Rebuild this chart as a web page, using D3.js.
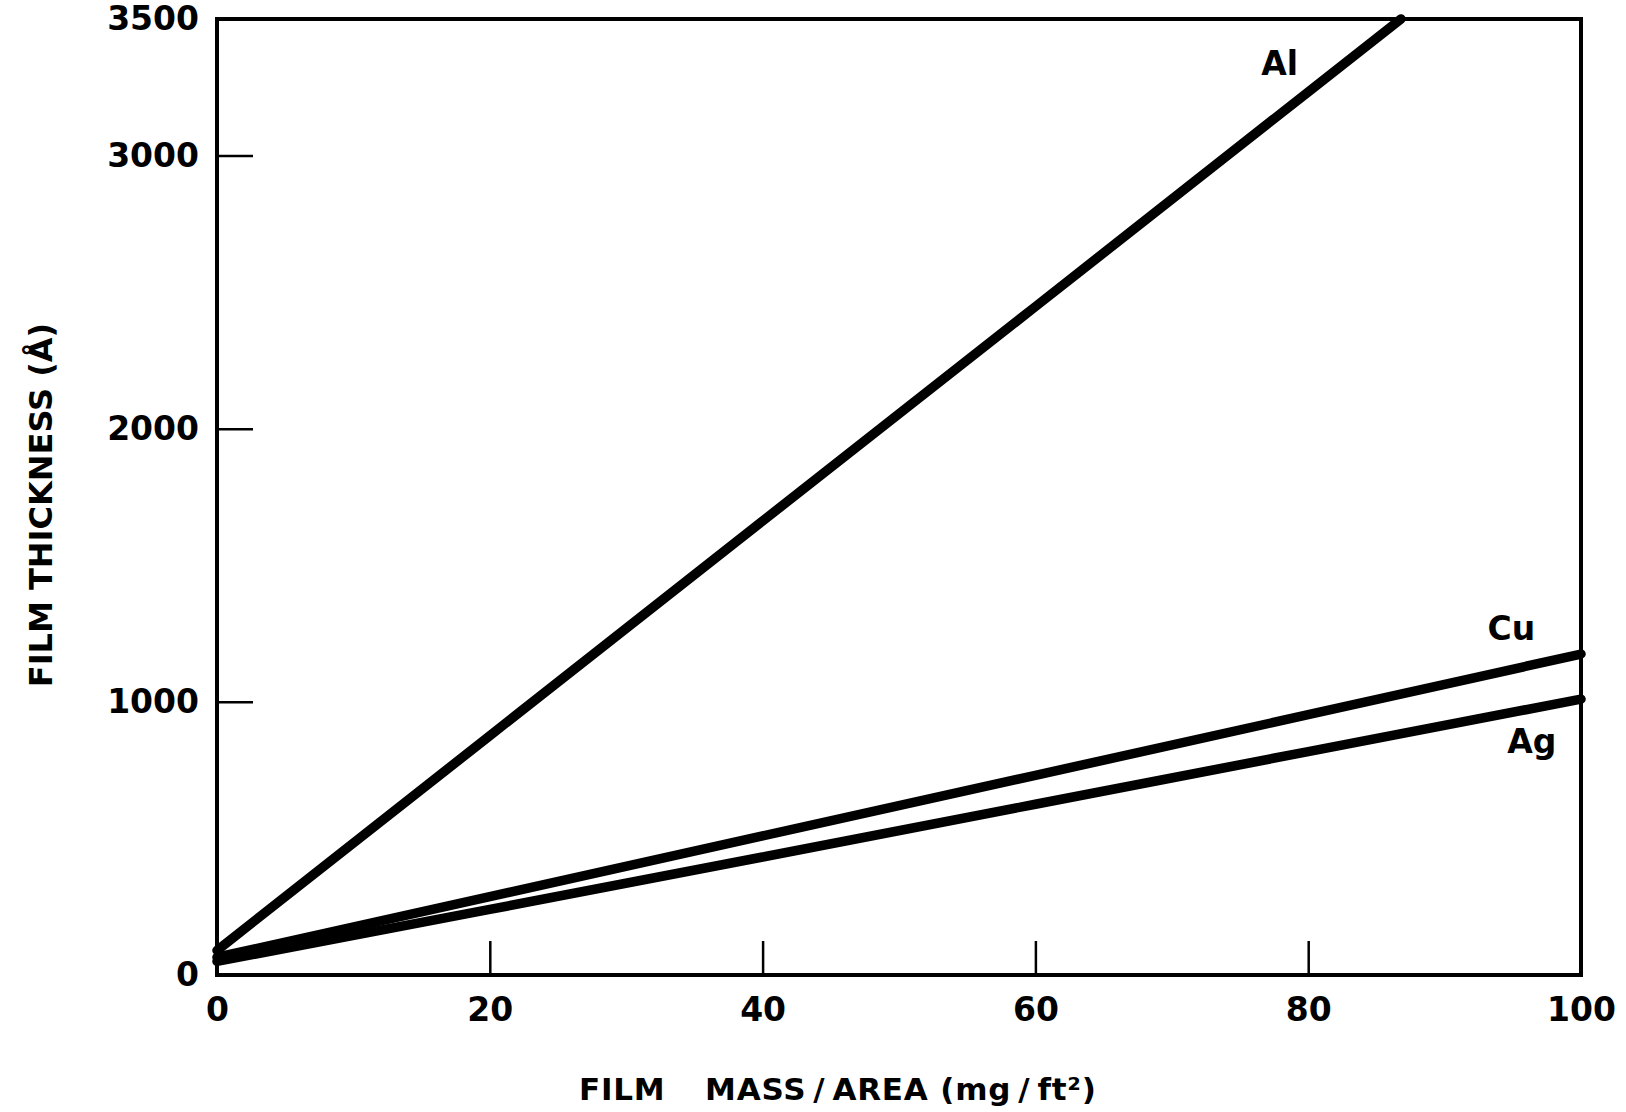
<!DOCTYPE html>
<html>
<head>
<meta charset="utf-8">
<script src="https://cdn.jsdelivr.net/npm/d3@7"></script>
<style>
  body { margin: 0; background: #fff; }
  svg { display: block; }
  text { font-family: "DejaVu Sans", sans-serif; font-weight: bold; fill: #000; }
</style>
</head>
<body>
<script>
// values
var massTicks = [0, 20, 40, 60, 80, 100];
var thicknessTicks = [0, 1000, 2000, 3000, 3500];

var mass = [0, 20, 40, 60, 80, 100];
var cuThickness = [65, 287, 509, 731, 953, 1175];
var agThickness = [50, 240, 432, 625, 818, 1010];

var alMass = [0, 20, 40, 60, 80, 86.8];
var alThickness = [90, 876, 1662, 2447, 3233, 3500];

var W = 1626, H = 1112;
var margin = { top: 19, right: 45, bottom: 137, left: 217 };

var x = d3.scaleLinear().domain([0, 100]).range([margin.left, W - margin.right]);
var y = d3.scaleLinear().domain([0, 3500]).range([H - margin.bottom, margin.top]);

var svg = d3.select('body').append('svg')
  .attr('width', W)
  .attr('height', H);

svg.append('rect').attr('width', W).attr('height', H).attr('fill', '#fff');

//y axis, ticks point inward
var yAxis = d3.axisLeft(y)
  .tickValues(thicknessTicks)
  .tickSizeInner(-36)
  .tickSizeOuter(0)
  .tickPadding(18)
  .tickFormat(d3.format('d'));

var gy = svg.append('g')
  .attr('transform', 'translate(' + margin.left + ',0)')
  .call(yAxis);
gy.select('.domain').remove();
gy.selectAll('line').attr('stroke', '#000').attr('stroke-width', 2.5);
gy.selectAll('text').style('font-size', '33px');

//x axis, ticks point up
var xAxis = d3.axisBottom(x)
  .tickValues(massTicks)
  .tickSizeInner(-34)
  .tickSizeOuter(0)
  .tickPadding(0)
  .tickFormat(d3.format('d'));

var gx = svg.append('g')
  .attr('transform', 'translate(0,' + (H - margin.bottom) + ')')
  .call(xAxis);
gx.select('.domain').remove();
gx.selectAll('line').attr('stroke', '#000').attr('stroke-width', 2.5);
gx.selectAll('text')
  .attr('y', 46)
  .attr('dy', 0)
  .style('font-size', '33px');

//frame
svg.append('rect')
  .attr('x', x(0))
  .attr('y', y(3500))
  .attr('width', x(100) - x(0))
  .attr('height', y(0) - y(3500))
  .attr('fill', 'none')
  .attr('stroke', '#000')
  .attr('stroke-width', 4);

//lines
var line = d3.line()
  .x(function (d) { return x(d[0]); })
  .y(function (d) { return y(d[1]); });

var series = [
  d3.zip(alMass, alThickness),
  d3.zip(mass, cuThickness),
  d3.zip(mass, agThickness)
];

svg.selectAll('.series')
  .data(series)
  .enter()
  .append('path')
  .attr('class', 'series')
  .attr('d', line)
  .attr('fill', 'none')
  .attr('stroke', '#000')
  .attr('stroke-width', 9.5)
  .attr('stroke-linecap', 'round');

//line labels
var labels = [
  { name: 'Al', m: 77.9, t: 3295 },
  { name: 'Cu', m: 94.9, t: 1227 },
  { name: 'Ag', m: 96.4, t: 813 }
];

svg.selectAll('.lbl')
  .data(labels)
  .enter()
  .append('text')
  .attr('class', 'lbl')
  .attr('x', function (d) { return x(d.m); })
  .attr('y', function (d) { return y(d.t); })
  .attr('text-anchor', 'middle')
  .style('font-size', '33px')
  .text(function (d) { return d.name; });

//axis titles
var xt = svg.append('text')
  .attr('y', 1100)
  .style('font-size', '31px')
  .style('letter-spacing', '0.8px');
xt.append('tspan').attr('x', 579).text('FILM');
xt.append('tspan').attr('x', 705).text('MASS\u2009/\u2009AREA (mg\u2009/\u2009ft²)');

svg.append('text')
  .attr('transform', 'translate(52,505) rotate(-90)')
  .attr('text-anchor', 'middle')
  .style('font-size', '32px')
  .text('FILM THICKNESS (Å)');
</script>
</body>
</html>
